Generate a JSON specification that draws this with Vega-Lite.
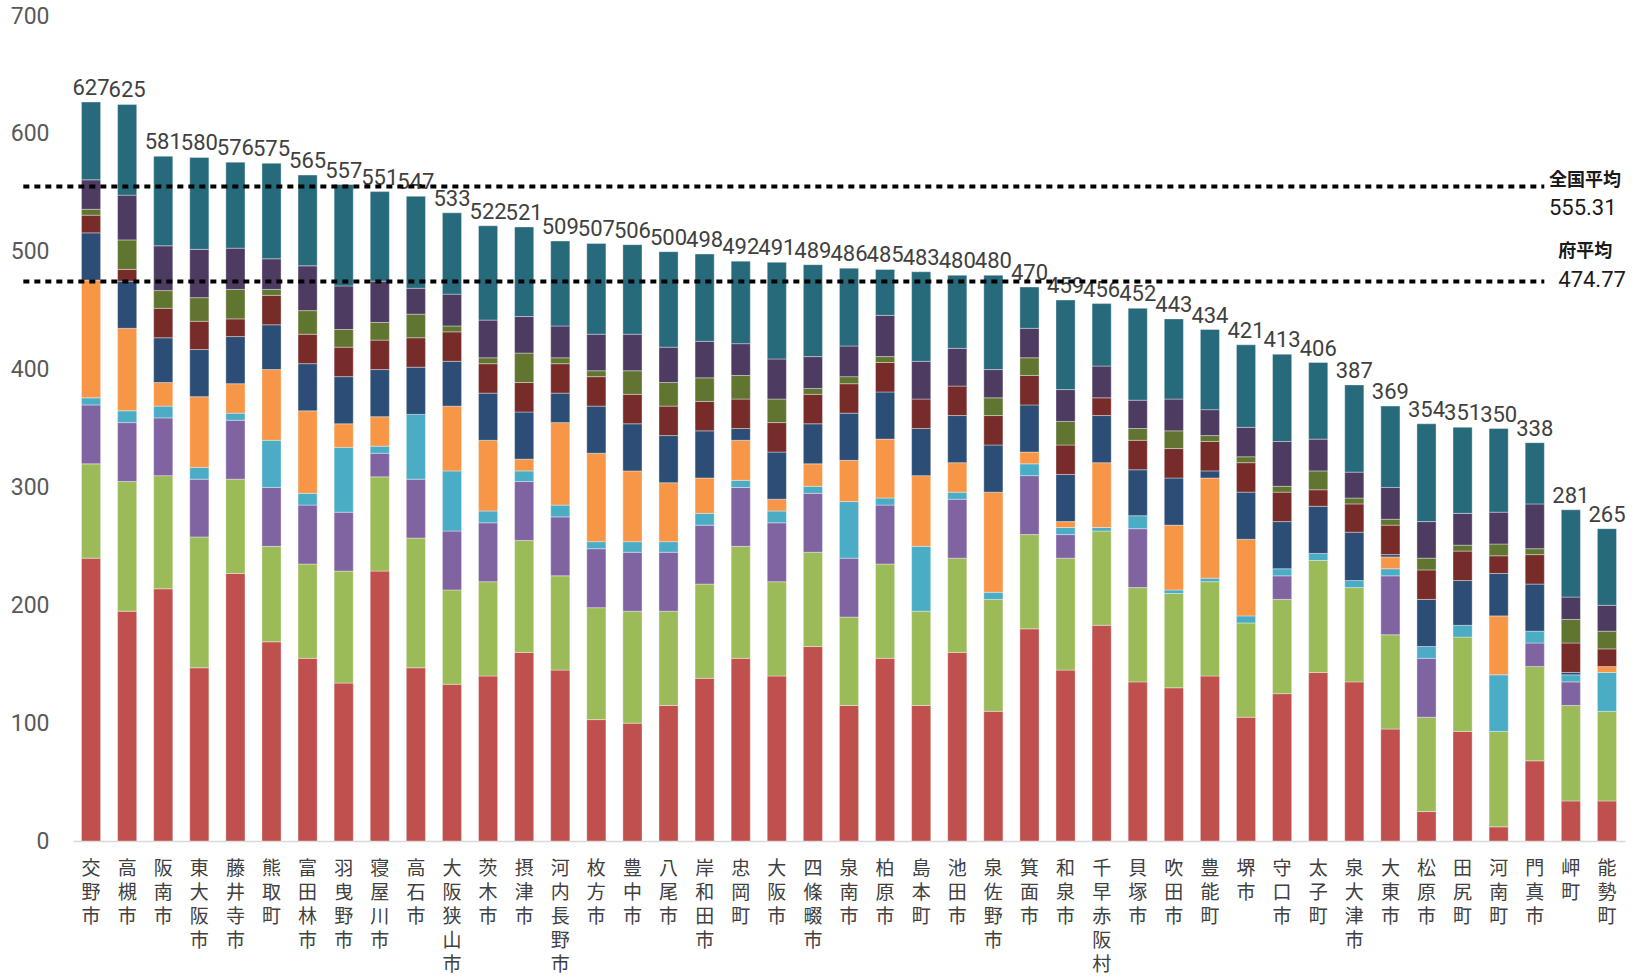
{
  "$schema": "https://vega.github.io/schema/vega-lite/v6.json",
  "width": 1552,
  "height": 825,
  "autosize": {"type": "none"},
  "padding": {"left": 73, "top": 16, "right": 13, "bottom": 138},
  "background": "white",
  "config": {"view": {"stroke": null}, "font": "Liberation Sans Narrow, Roboto, sans-serif"},
  "datasets": {
    "bars": [
      {"市町村": "交野市", "total": 627, "s01": 240, "s02": 80, "s03": 50, "s04": 6, "s05": 100, "s06": 40, "s07": 15, "s08": 5, "s09": 25, "s10": 66},
      {"市町村": "高槻市", "total": 625, "s01": 195, "s02": 110, "s03": 50, "s04": 10, "s05": 70, "s06": 40, "s07": 10, "s08": 25, "s09": 38, "s10": 77},
      {"市町村": "阪南市", "total": 581, "s01": 214, "s02": 96, "s03": 49, "s04": 10, "s05": 20, "s06": 38, "s07": 25, "s08": 15, "s09": 38, "s10": 76},
      {"市町村": "東大阪市", "total": 580, "s01": 147, "s02": 111, "s03": 49, "s04": 10, "s05": 60, "s06": 40, "s07": 24, "s08": 20, "s09": 41, "s10": 78},
      {"市町村": "藤井寺市", "total": 576, "s01": 227, "s02": 80, "s03": 50, "s04": 6, "s05": 25, "s06": 40, "s07": 15, "s08": 25, "s09": 35, "s10": 73},
      {"市町村": "熊取町", "total": 575, "s01": 169, "s02": 81, "s03": 50, "s04": 40, "s05": 60, "s06": 38, "s07": 25, "s08": 5, "s09": 26, "s10": 81},
      {"市町村": "富田林市", "total": 565, "s01": 155, "s02": 80, "s03": 50, "s04": 10, "s05": 70, "s06": 40, "s07": 25, "s08": 20, "s09": 38, "s10": 77},
      {"市町村": "羽曳野市", "total": 557, "s01": 134, "s02": 95, "s03": 50, "s04": 55, "s05": 20, "s06": 40, "s07": 25, "s08": 15, "s09": 37, "s10": 86},
      {"市町村": "寝屋川市", "total": 551, "s01": 229, "s02": 80, "s03": 20, "s04": 6, "s05": 25, "s06": 40, "s07": 25, "s08": 15, "s09": 35, "s10": 76},
      {"市町村": "高石市", "total": 547, "s01": 147, "s02": 110, "s03": 50, "s04": 55, "s05": 0, "s06": 40, "s07": 25, "s08": 20, "s09": 22, "s10": 78},
      {"市町村": "大阪狭山市", "total": 533, "s01": 133, "s02": 80, "s03": 50, "s04": 51, "s05": 55, "s06": 38, "s07": 25, "s08": 5, "s09": 27, "s10": 69},
      {"市町村": "茨木市", "total": 522, "s01": 140, "s02": 80, "s03": 50, "s04": 10, "s05": 60, "s06": 40, "s07": 25, "s08": 5, "s09": 32, "s10": 80},
      {"市町村": "摂津市", "total": 521, "s01": 160, "s02": 95, "s03": 50, "s04": 9, "s05": 10, "s06": 40, "s07": 25, "s08": 25, "s09": 31, "s10": 76},
      {"市町村": "河内長野市", "total": 509, "s01": 145, "s02": 80, "s03": 50, "s04": 10, "s05": 70, "s06": 25, "s07": 25, "s08": 5, "s09": 27, "s10": 72},
      {"市町村": "枚方市", "total": 507, "s01": 103, "s02": 95, "s03": 50, "s04": 6, "s05": 75, "s06": 40, "s07": 25, "s08": 5, "s09": 31, "s10": 77},
      {"市町村": "豊中市", "total": 506, "s01": 100, "s02": 95, "s03": 50, "s04": 9, "s05": 60, "s06": 40, "s07": 25, "s08": 20, "s09": 31, "s10": 76},
      {"市町村": "八尾市", "total": 500, "s01": 115, "s02": 80, "s03": 50, "s04": 9, "s05": 50, "s06": 40, "s07": 25, "s08": 20, "s09": 30, "s10": 81},
      {"市町村": "岸和田市", "total": 498, "s01": 138, "s02": 80, "s03": 50, "s04": 10, "s05": 30, "s06": 40, "s07": 25, "s08": 20, "s09": 31, "s10": 74},
      {"市町村": "忠岡町", "total": 492, "s01": 155, "s02": 95, "s03": 50, "s04": 6, "s05": 34, "s06": 10, "s07": 25, "s08": 20, "s09": 27, "s10": 70},
      {"市町村": "大阪市", "total": 491, "s01": 140, "s02": 80, "s03": 50, "s04": 10, "s05": 10, "s06": 40, "s07": 25, "s08": 20, "s09": 34, "s10": 82},
      {"市町村": "四條畷市", "total": 489, "s01": 165, "s02": 80, "s03": 50, "s04": 6, "s05": 19, "s06": 34, "s07": 25, "s08": 5, "s09": 27, "s10": 78},
      {"市町村": "泉南市", "total": 486, "s01": 115, "s02": 75, "s03": 50, "s04": 48, "s05": 35, "s06": 40, "s07": 25, "s08": 6, "s09": 26, "s10": 66},
      {"市町村": "柏原市", "total": 485, "s01": 155, "s02": 80, "s03": 50, "s04": 6, "s05": 50, "s06": 40, "s07": 25, "s08": 5, "s09": 35, "s10": 39},
      {"市町村": "島本町", "total": 483, "s01": 115, "s02": 80, "s03": 0, "s04": 55, "s05": 60, "s06": 40, "s07": 25, "s08": 0, "s09": 32, "s10": 76},
      {"市町村": "池田市", "total": 480, "s01": 160, "s02": 80, "s03": 50, "s04": 6, "s05": 25, "s06": 40, "s07": 25, "s08": 0, "s09": 32, "s10": 62},
      {"市町村": "泉佐野市", "total": 480, "s01": 110, "s02": 95, "s03": 0, "s04": 6, "s05": 85, "s06": 40, "s07": 25, "s08": 15, "s09": 24, "s10": 80},
      {"市町村": "箕面市", "total": 470, "s01": 180, "s02": 80, "s03": 50, "s04": 10, "s05": 10, "s06": 40, "s07": 25, "s08": 15, "s09": 25, "s10": 35},
      {"市町村": "和泉市", "total": 459, "s01": 145, "s02": 95, "s03": 20, "s04": 6, "s05": 5, "s06": 40, "s07": 25, "s08": 20, "s09": 27, "s10": 76},
      {"市町村": "千早赤阪村", "total": 456, "s01": 183, "s02": 80, "s03": 0, "s04": 3, "s05": 55, "s06": 40, "s07": 15, "s08": 0, "s09": 27, "s10": 53},
      {"市町村": "貝塚市", "total": 452, "s01": 135, "s02": 80, "s03": 50, "s04": 11, "s05": 0, "s06": 39, "s07": 25, "s08": 10, "s09": 24, "s10": 78},
      {"市町村": "吹田市", "total": 443, "s01": 130, "s02": 80, "s03": 0, "s04": 3, "s05": 55, "s06": 40, "s07": 25, "s08": 15, "s09": 27, "s10": 68},
      {"市町村": "豊能町", "total": 434, "s01": 140, "s02": 80, "s03": 0, "s04": 3, "s05": 85, "s06": 6, "s07": 25, "s08": 5, "s09": 22, "s10": 68},
      {"市町村": "堺市", "total": 421, "s01": 105, "s02": 80, "s03": 0, "s04": 6, "s05": 65, "s06": 40, "s07": 25, "s08": 5, "s09": 25, "s10": 70},
      {"市町村": "守口市", "total": 413, "s01": 125, "s02": 80, "s03": 20, "s04": 6, "s05": 0, "s06": 40, "s07": 25, "s08": 5, "s09": 38, "s10": 74},
      {"市町村": "太子町", "total": 406, "s01": 143, "s02": 95, "s03": 0, "s04": 6, "s05": 0, "s06": 40, "s07": 14, "s08": 16, "s09": 27, "s10": 65},
      {"市町村": "泉大津市", "total": 387, "s01": 135, "s02": 80, "s03": 0, "s04": 6, "s05": 0, "s06": 41, "s07": 24, "s08": 5, "s09": 22, "s10": 74},
      {"市町村": "大東市", "total": 369, "s01": 95, "s02": 80, "s03": 50, "s04": 6, "s05": 10, "s06": 2, "s07": 25, "s08": 5, "s09": 27, "s10": 69},
      {"市町村": "松原市", "total": 354, "s01": 25, "s02": 80, "s03": 50, "s04": 10, "s05": 0, "s06": 40, "s07": 25, "s08": 10, "s09": 31, "s10": 83},
      {"市町村": "田尻町", "total": 351, "s01": 93, "s02": 80, "s03": 0, "s04": 10, "s05": 0, "s06": 38, "s07": 25, "s08": 5, "s09": 27, "s10": 73},
      {"市町村": "河南町", "total": 350, "s01": 12, "s02": 81, "s03": 0, "s04": 48, "s05": 50, "s06": 36, "s07": 15, "s08": 10, "s09": 27, "s10": 71},
      {"市町村": "門真市", "total": 338, "s01": 68, "s02": 80, "s03": 20, "s04": 10, "s05": 0, "s06": 40, "s07": 25, "s08": 5, "s09": 38, "s10": 52},
      {"市町村": "岬町", "total": 281, "s01": 34, "s02": 81, "s03": 20, "s04": 6, "s05": 0, "s06": 2, "s07": 25, "s08": 20, "s09": 19, "s10": 74},
      {"市町村": "能勢町", "total": 265, "s01": 34, "s02": 76, "s03": 0, "s04": 33, "s05": 5, "s06": 0, "s07": 15, "s08": 15, "s09": 22, "s10": 65}
    ],
    "refs": [
      {"name": "全国平均", "value": 555.31},
      {"name": "府平均", "value": 474.77}
    ]
  },
  "layer": [
    {
      "layer": [
        {
          "data": {"name": "bars"},
          "transform": [
            {"fold": ["s01", "s02", "s03", "s04", "s05", "s06", "s07", "s08", "s09", "s10"], "as": ["系列", "値"]},
            {"filter": "datum['値'] > 0"}
          ],
          "mark": {"type": "bar", "stroke": "#ffffff", "strokeWidth": 0.6, "strokeOpacity": 0.6},
          "encoding": {
            "x": {
              "field": "市町村", "type": "nominal", "sort": null,
              "scale": {"paddingInner": 0.47, "paddingOuter": 0.235},
              "axis": {
                "title": null, "ticks": false, "labelAngle": 0,
                "domainColor": "#d9d9d9", "domainWidth": 1.5,
                "labelFont": "Noto Sans CJK JP", "labelFontSize": 19, "labelColor": "#404040",
                "labelBaseline": "top", "labelPadding": 18, "labelLineHeight": 24,
                "labelExpr": "split(datum.label, '')", "labelOverlap": false
              }
            },
            "y": {
              "field": "値", "type": "quantitative", "stack": "zero",
              "scale": {"domain": [0, 700], "nice": false},
              "axis": {
                "title": null, "values": [0, 100, 200, 300, 400, 500, 600, 700],
                "domain": false, "ticks": false, "grid": false,
                "labelFontSize": 23, "labelColor": "#595959", "labelPadding": 24
              }
            },
            "color": {
              "field": "系列", "type": "nominal",
              "scale": {
                "domain": ["s01", "s02", "s03", "s04", "s05", "s06", "s07", "s08", "s09", "s10"],
                "range": ["#C0504D", "#9BBB59", "#8064A2", "#4BACC6", "#F79646", "#2C4D75", "#772C2A", "#5F7530", "#4D3B62", "#276A7C"]
              },
              "legend": null
            },
            "order": {"field": "系列", "type": "nominal", "sort": "ascending"}
          }
        },
        {
          "data": {"name": "bars"},
          "mark": {"type": "text", "baseline": "alphabetic", "dy": -7, "fontSize": 22, "color": "#404040"},
          "encoding": {
            "x": {"field": "市町村", "type": "nominal", "sort": null},
            "y": {"field": "total", "type": "quantitative"},
            "text": {"field": "total", "type": "quantitative"}
          }
        }
      ]
    },
    {
      "layer": [
        {
          "data": {"name": "refs"},
          "mark": {"type": "rule", "color": "#000000", "strokeWidth": 4, "strokeDash": [6, 5]},
          "encoding": {
            "x": {"datum": -0.032, "type": "quantitative", "scale": {"domain": [0, 1], "nice": false}, "axis": null},
            "x2": {"datum": 0.948},
            "y": {"field": "value", "type": "quantitative"}
          }
        },
        {
          "data": {"name": "refs"},
          "transform": [{"filter": "datum.name == '全国平均'"}],
          "mark": {"type": "text", "align": "left", "baseline": "middle", "dy": -6, "font": "Noto Sans CJK JP", "fontSize": 18, "fontWeight": "bold", "color": "#1a1a1a"},
          "encoding": {
            "x": {"datum": 0.951, "type": "quantitative"},
            "y": {"field": "value", "type": "quantitative"},
            "text": {"field": "name"}
          }
        },
        {
          "data": {"name": "refs"},
          "transform": [{"filter": "datum.name == '全国平均'"}],
          "mark": {"type": "text", "align": "left", "baseline": "middle", "dy": 21, "fontSize": 22, "color": "#1a1a1a"},
          "encoding": {
            "x": {"datum": 0.951, "type": "quantitative"},
            "y": {"field": "value", "type": "quantitative"},
            "text": {"field": "value", "type": "quantitative", "format": ".2f"}
          }
        },
        {
          "data": {"name": "refs"},
          "transform": [{"filter": "datum.name == '府平均'"}],
          "mark": {"type": "text", "align": "left", "baseline": "middle", "dy": -29, "font": "Noto Sans CJK JP", "fontSize": 18, "fontWeight": "bold", "color": "#1a1a1a"},
          "encoding": {
            "x": {"datum": 0.957, "type": "quantitative"},
            "y": {"field": "value", "type": "quantitative"},
            "text": {"field": "name"}
          }
        },
        {
          "data": {"name": "refs"},
          "transform": [{"filter": "datum.name == '府平均'"}],
          "mark": {"type": "text", "align": "left", "baseline": "middle", "dy": -1, "fontSize": 22, "color": "#1a1a1a"},
          "encoding": {
            "x": {"datum": 0.957, "type": "quantitative"},
            "y": {"field": "value", "type": "quantitative"},
            "text": {"field": "value", "type": "quantitative", "format": ".2f"}
          }
        }
      ]
    }
  ],
  "resolve": {"scale": {"x": "independent"}}
}
